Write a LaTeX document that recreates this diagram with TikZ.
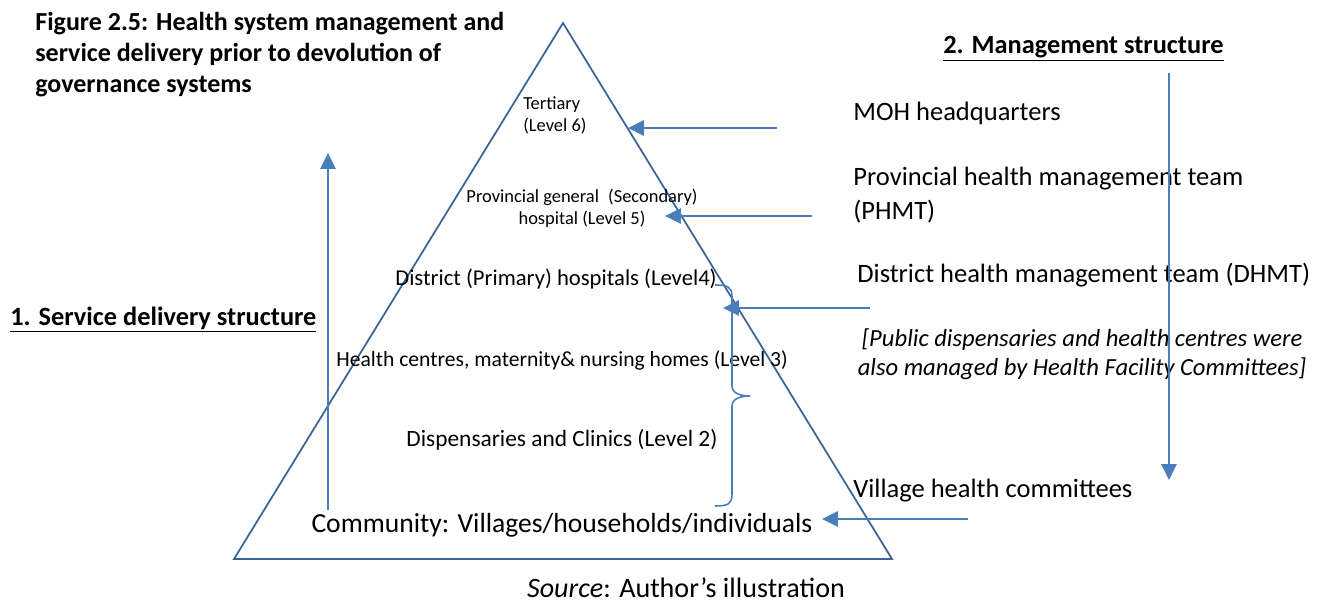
\documentclass[tikz,border=0pt]{standalone}
\usepackage{fontspec}
\setmainfont{Carlito}
\usetikzlibrary{arrows.meta, positioning}
\definecolor{edgeblue}{HTML}{3B6496}
\definecolor{arrowblue}{HTML}{4A7EBB}
\tikzset{HealthPyramid/.style={
    x = 0.02cm, y = -0.02cm,
    every node/.style = {inner sep=0pt},
    level/.style = {align=center, anchor=base, font=\fontsize{12.3}{14.5}\selectfont},
    small level/.style = {level, font=\fontsize{10.5}{12.5}\selectfont},
    mgmt/.style = {anchor=base west, align=left, font=\fontsize{15.1}{19.3}\selectfont},
    heading/.style = {anchor=base west, font=\bfseries\fontsize{15}{17.6}\selectfont},
    flow/.style = {draw=arrowblue, line width=1.5pt, -{Triangle[length=9pt, width=8.5pt]}},
    pyramid/.style = {draw=edgeblue, line width=1pt}
}}

\begin{document}
\begin{tikzpicture}[HealthPyramid]
    \useasboundingbox (0,0) rectangle (1322,605);

    % the pyramid
    \draw [pyramid] (563,23) -- (892,559) -- (234,559) -- cycle;

    % titles
    \node [heading, align=left, anchor=north west, font=\bfseries\fontsize{14.8}{17.6}\selectfont] (title) at (35,12) {
        Figure 2.5: Health system management and\\
        service delivery prior to devolution of\\
        governance systems
    };
    \node [heading] (mgt) at (943,53) {\underline{2. Management structure}};
    \node [heading] (svc) at (10,325) {\underline{1. Service delivery structure}};

    % levels of service delivery
    \node [small level, align=left, anchor=north west] (lvl6) at (523,96) {Tertiary\\(Level 6)};
    \node [small level, anchor=north] (lvl5) at (582,189) {Provincial general\enspace(Secondary)\\hospital (Level 5)};
    \node [level, font=\fontsize{12.9}{15}\selectfont] (lvl4) at (556,285) {District (Primary) hospitals (Level4)};
    \node [level] (lvl3) at (562,366) {Health centres, maternity\& nursing homes (Level 3)};
    \node [level, font=\fontsize{13.3}{15}\selectfont] (lvl2) at (562,446) {Dispensaries and Clinics (Level 2)};
    \node [level, font=\fontsize{15.7}{18}\selectfont] (comm) at (562,532) {Community: Villages/households/individuals};

    % management structure
    \node [mgmt] (moh) at (853,120) {MOH headquarters};
    \node [mgmt, anchor=north west] (phmt) at (853,167) {Provincial health management team\\(PHMT)};
    \node [mgmt] (dhmt) at (857,282) {District health management team (DHMT)};
    \node [mgmt, align=center, anchor=north, font=\itshape\fontsize{14}{17}\selectfont] (note) at (1082,328) {
        [Public dispensaries and health centres were\\
        also managed by Health Facility Committees]
    };
    \node [mgmt] (vhc) at (853,497) {Village health committees};

    \node [level, font=\fontsize{16}{18}\selectfont] (src) at (686,597) {\textit{Source}: Author’s illustration};

    % arrows
    \coordinate (moh-from) at (777,128);
    \coordinate (moh-to) at (628,128);
    \coordinate (phmt-from) at (812,216);
    \coordinate (phmt-to) at (665,216);
    \coordinate (dhmt-from) at (870,308);
    \coordinate (dhmt-to) at (723,308);
    \coordinate (vhc-from) at (968,519);
    \coordinate (vhc-to) at (822,519);
    \coordinate (up-from) at (328,510);
    \coordinate (up-to) at (328,153);
    \coordinate (down-from) at (1169,73);
    \coordinate (down-to) at (1169,480);

    \draw [flow] (moh-from) -- (moh-to);
    \draw [flow] (phmt-from) -- (phmt-to);
    \draw [flow] (dhmt-from) -- (dhmt-to);
    \draw [flow] (vhc-from) -- (vhc-to);
    \draw [flow] (up-from) -- (up-to);
    \draw [flow] (down-from) -- (down-to);

    % brace over levels 2 to 4
    \draw [arrowblue, line width=0.9pt]
        (715,285) .. controls (728,285) and (732,287) .. (732,297) -- (732,386)
        .. controls (732,393) and (740,396) .. (750,396)
        .. controls (740,396) and (732,399) .. (732,406) -- (732,494)
        .. controls (732,504) and (728,506) .. (715,506);
\end{tikzpicture}
\end{document}
